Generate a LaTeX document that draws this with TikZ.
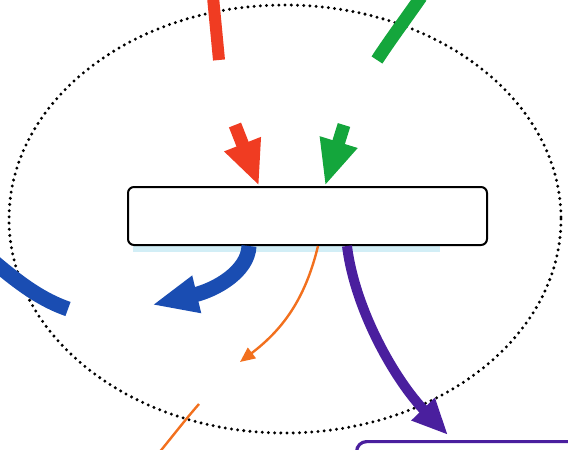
\documentclass[tikz,border=0pt]{standalone}
\usetikzlibrary{arrows.meta}
\definecolor{cred}{HTML}{F03C22}
\definecolor{cgreen}{HTML}{14A63C}
\definecolor{cblue}{HTML}{1A4DB2}
\definecolor{corange}{HTML}{F2701E}
\definecolor{cpurple}{HTML}{4A1F9E}
\definecolor{cshadow}{HTML}{D2EEF6}
\begin{document}
\begin{tikzpicture}[x=1pt,y=-1pt,
  mainbox/.style={draw=black, line width=2pt, rounded corners=6pt, fill=white,
    minimum width=359pt, minimum height=58pt, inner sep=0pt},
  sidebox/.style={draw=cpurple, line width=3.2pt, rounded corners=10pt,
    minimum width=260pt, minimum height=60pt, inner sep=0pt, anchor=north west},
  boundary/.style={line width=3.3pt, dash pattern=on 0pt off 6.2pt, line cap=round},
  bigarrow/.style={line width=#1},
]
\useasboundingbox (0,0) rectangle (568,450);
\clip (0,0) rectangle (568,450);

% dotted boundary
\draw[boundary] (285,219) ellipse [x radius=276, y radius=214];

% shadow and main box
\fill[cshadow] (133,244) rectangle (440,252);
\node[mainbox] (box) at (307.5,216) {};
\node[sidebox] (side) at (355,440) {};

% named end points
\coordinate (rtop0) at (213,-3);
\coordinate (rtop1) at (219,60);
\coordinate (rlow0) at (235,125);
\coordinate (rtip) at ([xshift=-48.5pt]box.north);
\coordinate (gtop0) at (421,-3);
\coordinate (gtop1) at (377,60);
\coordinate (glow0) at (344,125);
\coordinate (gtip) at ([xshift=17.5pt]box.north);
\coordinate (bstart) at ([xshift=-58.5pt]box.south);
\coordinate (btip) at (152,305);
\coordinate (bl0) at (-6,262);
\coordinate (bl1) at (68,309);
\coordinate (ostart) at ([xshift=10.5pt]box.south);
\coordinate (otip) at (240,362);
\coordinate (ol0) at (199,404);
\coordinate (ol1) at (158,454);
\coordinate (pstart) at ([xshift=39.5pt]box.south);
\coordinate (ptip) at ([xshift=93pt,yshift=5pt]side.north west);

% red
\draw[cred, bigarrow=12pt] (rtop0) -- (rtop1);
\draw[cred, bigarrow=13pt, -{Triangle[length=45pt,width=36pt]}] (rlow0) -- (rtip);
% green
\draw[cgreen, bigarrow=13pt] (gtop0) .. controls (405,20) and (390,40) .. (gtop1);
\draw[cgreen, bigarrow=13pt, -{Triangle[length=46pt,width=36pt]}] (glow0) -- (gtip);
% blue
\draw[cblue, bigarrow=15pt] (bl0) .. controls (20,284) and (42,300) .. (bl1);
\draw[cblue, bigarrow=15pt, -{Triangle[length=46pt,width=35pt]}]
  (bstart) .. controls (248,272) and (215,290) .. (btip);
% orange
\draw[corange, line width=2.4pt, -{Triangle[length=15pt,width=13pt]}]
  (ostart) .. controls (305,300) and (282,330) .. (otip);
\draw[corange, line width=2.4pt] (ol0) .. controls (185,420) and (172,437) .. (ol1);
% purple
\draw[cpurple, bigarrow=10pt, -{Triangle[length=36pt,width=30pt]}]
  (pstart) .. controls (355,310) and (395,380) .. (ptip);
\end{tikzpicture}
\end{document}
